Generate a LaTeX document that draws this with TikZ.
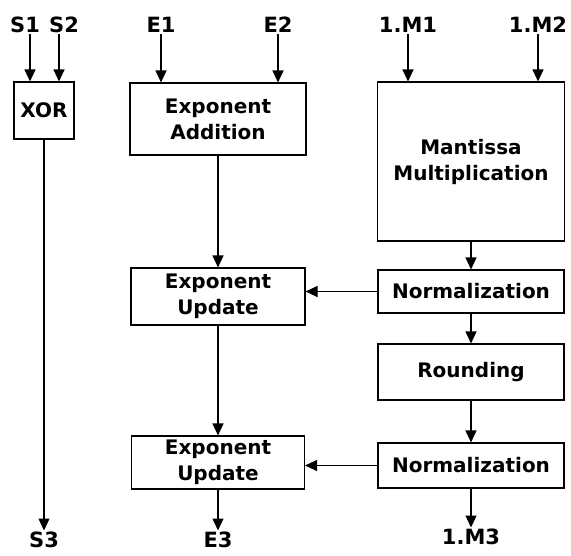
\documentclass[tikz,border=0pt]{standalone}
\usepackage{fontspec}
\setmainfont{DejaVu Sans}
\usetikzlibrary{arrows.meta}
\begin{document}
\begin{tikzpicture}[x=1pt,y=-1pt,line width=1.1pt,
  >={Triangle[width=11pt,length=12pt]},
  font=\fontsize{20}{26}\selectfont\bfseries,
  blk/.style={draw,rectangle,align=center,inner sep=0pt},
  lbl/.style={inner sep=1pt,font=\fontsize{21}{26}\selectfont\bfseries}]
\useasboundingbox (0,0) rectangle (571,555);

\node[blk,minimum width=60pt,minimum height=57pt] (xor) at (44,110.5) {XOR};
\node[blk,minimum width=176pt,minimum height=72pt] (add) at (218,119) {Exponent\\Addition};
\node[blk,minimum width=187pt,minimum height=159pt] (mant) at (471,161.5) {Mantissa\\Multiplication};

\node[blk,minimum width=174pt,minimum height=57pt] (upd1) at (218,296.5) {Exponent\\Update};
\node[blk,minimum width=186pt,minimum height=43pt] (norm1) at (471,291.5) {Normalization};
\node[blk,minimum width=186pt,minimum height=56pt] (rnd) at (471,372) {Rounding};
\node[blk,minimum width=173pt,minimum height=53pt] (upd2) at (218,462.5) {Exponent\\Update};
\node[blk,minimum width=186pt,minimum height=45pt] (norm2) at (471,465.5) {Normalization};

% inputs
\node[lbl] (s1) at (25,25) {S1};
\node[lbl] (s2) at (64,25) {S2};
\node[lbl] (e1) at (161,25) {E1};
\node[lbl] (e2) at (278,25) {E2};
\node[lbl] (m1) at (408,25) {1.M1};
\node[lbl] (m2) at (538,25) {1.M2};

% outputs
\node[lbl] (s3) at (44,540) {S3};
\node[lbl] (e3) at (218,540) {E3};
\node[lbl] (m3) at (471,537) {1.M3};

\draw[->] ([xshift=5pt]s1.south) -- ([xshift=5pt]s1.south |- xor.north);
\draw[->] ([xshift=-5pt]s2.south) -- ([xshift=-5pt]s2.south |- xor.north);
\draw[->] (e1) -- (e1 |- add.north);
\draw[->] (e2) -- (e2 |- add.north);
\draw[->] (m1) -- (m1 |- mant.north);
\draw[->] (m2) -- (m2 |- mant.north);

\draw[->] (xor) -- (s3);
\draw[->] (add) -- (upd1);
\draw[->] (upd1) -- (upd2);
\draw[->] (upd2) -- (e3);

\draw[->] (mant) -- (norm1);
\draw[->] (norm1) -- (rnd);
\draw[->] (rnd) -- (norm2);
\draw[->] (norm2) -- (m3);

\draw[->] (norm1.west) -- (norm1.west -| upd1.east);
\draw[->] (norm2.west) -- (norm2.west -| upd2.east);
\end{tikzpicture}
\end{document}
